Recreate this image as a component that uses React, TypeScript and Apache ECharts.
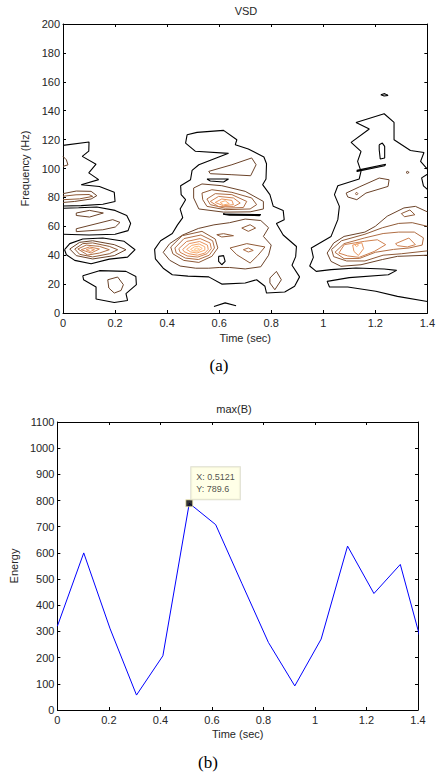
import React, { useEffect, useRef } from "react";
import * as echarts from "echarts";

type Pt = [number, number];

// ================= chart (a): VSD contour lines, points are [time (sec), frequency (Hz)] =================
const levelColors = ["#000000", "#6b4329", "#8f5a37", "#b06e44", "#cf8150", "#e8955e", "#f7a96c", "#ffbb7e", "#ffcb94"];

// left column (t ~ 0 - 0.28)
const leftA1: Pt[] = [[0, 116], [0.1, 118.3], [0.099, 112], [0.074, 108.4], [0.127, 103], [0.099, 97], [0.137, 92.3], [0.07, 88.8], [0.14, 87.5], [0.197, 83.5], [0.2, 77.2], [0.153, 75.3], [0.07, 74.3], [0, 74]];
const leftA2: Pt[] = [[0, 72.5], [0.06, 72.8], [0.13, 73.4], [0.2, 71], [0.245, 67.5], [0.26, 62], [0.25, 57], [0.2, 54.5], [0.1, 54], [0, 54.5]];
const leftEdge100: Pt[] = [[0, 108.4], [0.013, 106], [0.019, 102.5], [0, 101.5]];
const left80L2: Pt[] = [[0, 82.6], [0.051, 84.4], [0.108, 84.2], [0.13, 81.2], [0.108, 78.9], [0.045, 77.2], [0, 76.5]];
const left80L3: Pt[] = [[0, 80.8], [0.05, 81.8], [0.1, 82], [0.114, 80.7], [0.064, 79], [0, 78.4]];
const leftDiamond: Pt[] = [[0.051, 69.2], [0.102, 71], [0.155, 69.2], [0.102, 66.4], [0.051, 67.5]];
const left60: Pt[] = [[0.051, 58.3], [0.191, 64.6], [0.219, 62.7], [0.201, 59.5], [0.153, 57.6], [0.051, 56.3]];
const left45L1: Pt[] = [[0.006, 43.8], [0.026, 48], [0.076, 51.2], [0.153, 51.9], [0.235, 49.6], [0.277, 43.8], [0.248, 38.7], [0.178, 37.3], [0.108, 34.1], [0.045, 36.4], [0.013, 40.3]];
const left45L2: Pt[] = [[0.026, 44.3], [0.064, 48.9], [0.114, 50], [0.197, 47.3], [0.242, 43.8], [0.197, 39.7], [0.114, 37.4], [0.051, 39.7]];
const left45L3: Pt[] = [[0.045, 44.3], [0.076, 48], [0.114, 48.5], [0.178, 46.1], [0.21, 43.8], [0.178, 41], [0.114, 38.8], [0.064, 40.6]];
const left45L4: Pt[] = [[0.057, 44.3], [0.089, 47], [0.14, 46.1], [0.178, 43.8], [0.14, 41.5], [0.095, 40.1]];
const left45L5: Pt[] = [[0.07, 43.8], [0.102, 45.7], [0.14, 44.3], [0.108, 41.5]];
const left45L6: Pt[] = [[0.089, 43.8], [0.105, 44.7], [0.121, 43.8], [0.105, 42.6]];
const left20L1: Pt[] = [[0.076, 25.8], [0.14, 29.3], [0.242, 28.8], [0.28, 25.3], [0.282, 19.6], [0.242, 13.4], [0.248, 8.7], [0.197, 7.3], [0.127, 9.7], [0.127, 18], [0.079, 23]];
const left20L2: Pt[] = [[0.172, 23], [0.21, 24.9], [0.232, 19.6], [0.223, 15.6], [0.197, 13.8], [0.176, 17.3]];

// middle column (t ~ 0.35 - 0.91)
const midOuter: Pt[] = [[0.477, 123.4], [0.515, 125], [0.617, 126.4], [0.668, 119.9], [0.662, 116.5], [0.712, 113.5], [0.772, 108], [0.782, 103.3], [0.78, 92.7], [0.767, 88.8], [0.795, 81.9], [0.808, 73.8], [0.846, 71], [0.85, 64.6], [0.82, 62], [0.846, 54], [0.897, 46], [0.894, 39], [0.88, 33], [0.909, 25], [0.89, 18.5], [0.852, 14.5], [0.782, 13.8], [0.776, 18.5], [0.744, 23], [0.7, 20.8], [0.61, 20], [0.56, 25], [0.48, 25.5], [0.42, 26.5], [0.385, 31], [0.355, 37.5], [0.352, 44], [0.375, 50], [0.42, 55], [0.44, 61], [0.46, 66], [0.45, 72], [0.471, 78.4], [0.454, 81.9], [0.452, 88.1], [0.49, 92.2], [0.496, 98.7], [0.522, 102.6], [0.636, 110.5], [0.509, 111.9], [0.471, 117.6]];
const mid100L2: Pt[] = [[0.56, 98], [0.649, 102.6], [0.725, 107.3], [0.742, 102.6], [0.721, 95], [0.649, 95.7], [0.566, 96.4]];
const midSliver92: Pt[] = [[0.553, 92.7], [0.636, 92.7], [0.617, 90.7], [0.566, 91.3]];
const mid80L2: Pt[] = [[0.502, 86.5], [0.534, 89.3], [0.61, 88.1], [0.7, 84.2], [0.77, 77.2], [0.77, 72], [0.719, 70], [0.617, 69.8], [0.522, 72], [0.502, 79.6]];
const mid80L3: Pt[] = [[0.534, 83], [0.572, 85.3], [0.649, 83.5], [0.725, 79.6], [0.744, 75], [0.719, 72], [0.623, 71.5], [0.553, 73.8], [0.537, 78.4]];
const mid80L4: Pt[] = [[0.553, 78.9], [0.585, 82.6], [0.649, 81.9], [0.706, 77.2], [0.693, 73], [0.623, 72.5], [0.566, 75]];
const mid80L5: Pt[] = [[0.566, 77.2], [0.598, 80.7], [0.655, 79.6], [0.681, 76.1], [0.655, 73.6], [0.598, 73.6]];
const mid80L6: Pt[] = [[0.585, 76.5], [0.61, 78.9], [0.649, 77.9], [0.655, 75], [0.617, 74.2]];
const mid80L7: Pt[] = [[0.604, 76.5], [0.623, 77.7], [0.639, 75.6], [0.617, 74.8]];
const midSliver68: Pt[] = [[0.615, 68.4], [0.76, 68.1], [0.755, 67.4], [0.64, 67.6]];
const mid45L2: Pt[] = [[0.385, 42], [0.41, 48], [0.46, 54], [0.52, 58.5], [0.58, 61], [0.64, 62.5], [0.7, 65], [0.76, 64], [0.79, 59], [0.77, 53], [0.8, 47], [0.79, 40], [0.76, 32], [0.7, 30.5], [0.64, 31.5], [0.6, 31.5], [0.56, 31], [0.51, 31], [0.45, 32.5], [0.41, 36.5]];
const mid45L3: Pt[] = [[0.414, 45.7], [0.458, 53.5], [0.534, 56.5], [0.585, 51.2], [0.595, 45], [0.572, 39.2], [0.522, 35], [0.464, 36.4], [0.422, 41]];
const mid45L4: Pt[] = [[0.43, 45], [0.465, 51.5], [0.53, 54], [0.575, 50], [0.582, 45], [0.562, 40], [0.52, 37], [0.47, 38], [0.435, 41.5]];
const mid45L5: Pt[] = [[0.445, 44.5], [0.475, 49.5], [0.527, 51.5], [0.565, 48.5], [0.57, 44.5], [0.553, 41], [0.518, 38.7], [0.477, 39.5], [0.45, 42]];
const mid45L6: Pt[] = [[0.46, 44], [0.485, 48], [0.525, 49.5], [0.555, 47], [0.558, 44], [0.545, 41.5], [0.517, 40], [0.484, 41], [0.465, 42.5]];
const mid45L7: Pt[] = [[0.475, 44], [0.495, 46.8], [0.523, 47.8], [0.545, 45.8], [0.545, 43.5], [0.515, 41.5], [0.49, 42.3]];
const mid45L8: Pt[] = [[0.49, 44], [0.505, 45.8], [0.522, 46.2], [0.535, 44.7], [0.52, 42.8], [0.5, 43]];
const mid45L9: Pt[] = [[0.503, 44], [0.515, 45], [0.525, 44.2], [0.513, 43.3]];
const midDiamondL3: Pt[] = [[0.642, 45], [0.706, 48], [0.776, 45.7], [0.748, 39.7], [0.719, 34.6], [0.668, 40.3]];
const midDiamondL4: Pt[] = [[0.693, 43.8], [0.712, 45], [0.731, 43.3], [0.712, 42.2]];
const midTopRightL3: Pt[] = [[0.687, 58.8], [0.719, 61.1], [0.74, 58.8], [0.712, 56.5]];
const midSliver54: Pt[] = [[0.591, 54.2], [0.617, 54.9], [0.655, 53.5], [0.61, 52.6]];
const midHole: Pt[] = [[0.598, 39.2], [0.617, 39.7], [0.623, 35.7], [0.61, 33.4], [0.598, 35.7]];
const midLowDiamond: Pt[] = [[0.795, 24.2], [0.82, 28.8], [0.839, 23], [0.814, 16.1], [0.795, 20.8]];
const midBottomBump: Pt[] = [[0.58, 4.5], [0.623, 7], [0.665, 5]];

// right column (t ~ 0.95 - 1.4)
const rightOuter: Pt[] = [[1.4, 8], [1.285, 11.5], [1.202, 15], [1.094, 18], [1.024, 18], [1.015, 21.9], [1.1, 24.5], [1.25, 26.5], [1.282, 29.5], [1.234, 30.4], [1.126, 31.1], [1.03, 30], [0.973, 28.8], [0.948, 32.5], [0.962, 38.5], [0.954, 45], [1.03, 53], [1.056, 64.6], [1.062, 73.8], [1.043, 81.9], [1.056, 88.1], [1.138, 92.7], [1.145, 98], [1.132, 104.9], [1.145, 111.8], [1.107, 118.1], [1.177, 127.3], [1.126, 131.9], [1.234, 137.9], [1.272, 131.9], [1.272, 119.9], [1.335, 112.5], [1.387, 111.1], [1.374, 104.9], [1.4, 99.6]];
const rightEdge95: Pt[] = [[1.4, 96], [1.378, 93.5], [1.385, 88], [1.4, 85.5]];
const right152: Pt[] = [[1.221, 151.1], [1.236, 151.8], [1.249, 150.6], [1.234, 150.2]];
const rightOval: Pt[] = [[1.215, 116.5], [1.227, 117.6], [1.236, 115.3], [1.236, 107.3], [1.219, 106.6], [1.215, 113]];
const rightSliver100: Pt[] = [[1.129, 98.7], [1.24, 102.9], [1.236, 101.9], [1.13, 97.9]];
const rightDot97: Pt[] = [[1.318, 97.3], [1.323, 98], [1.33, 97.3], [1.323, 96.6]];
const right85L2: Pt[] = [[1.088, 83], [1.138, 87.2], [1.215, 93.4], [1.253, 92.2], [1.249, 87.6], [1.164, 83], [1.129, 78.4], [1.094, 80.3]];
const right85L3: Pt[] = [[1.124, 82.6], [1.128, 83.6], [1.133, 82.6], [1.128, 81.6]];
const right45L2: Pt[] = [[1.4, 40], [1.285, 39.2], [1.227, 37], [1.145, 33.4], [1.068, 32.3], [1.03, 35.7], [1.015, 41.5], [1.04, 48.4], [1.08, 53], [1.16, 56], [1.2, 60], [1.246, 67], [1.31, 72.7], [1.354, 73.8], [1.4, 70]];
const rightRhombus: Pt[] = [[1.3, 68.8], [1.333, 71.3], [1.352, 68], [1.312, 66.6]];
const right45L3: Pt[] = [[1.4, 43], [1.3, 41], [1.23, 40], [1.16, 36], [1.09, 36], [1.04, 39], [1.032, 44], [1.07, 50], [1.16, 54.5], [1.227, 59], [1.29, 62], [1.342, 62.5], [1.4, 60]];
const right45L4: Pt[] = [[1.045, 42], [1.08, 48], [1.16, 52], [1.23, 55], [1.29, 56], [1.35, 56], [1.385, 52], [1.38, 47], [1.33, 45], [1.27, 44], [1.2, 42], [1.14, 37.8], [1.08, 37.6]];
const right45L5: Pt[] = [[1.06, 41.5], [1.081, 47.3], [1.158, 49.6], [1.208, 50.7], [1.24, 47.3], [1.196, 42.6], [1.138, 38.5], [1.094, 39.5]];
const right45L6: Pt[] = [[1.113, 47], [1.148, 48.6], [1.155, 44.5], [1.135, 39.8], [1.118, 42.6]];
const right45L7: Pt[] = [[1.122, 47], [1.13, 48], [1.135, 46.8], [1.128, 46]];
const right45R5: Pt[] = [[1.278, 48], [1.329, 51.9], [1.354, 47.3], [1.323, 45.7], [1.285, 46.6]];

const contourList: { pts: Pt[]; level: number; closed: boolean }[] = [
  { pts: leftA1, level: 1, closed: false },
  { pts: leftA2, level: 1, closed: false },
  { pts: leftEdge100, level: 2, closed: false },
  { pts: left80L2, level: 2, closed: false },
  { pts: left80L3, level: 3, closed: false },
  { pts: leftDiamond, level: 2, closed: true },
  { pts: left60, level: 2, closed: true },
  { pts: left45L1, level: 1, closed: true },
  { pts: left45L2, level: 2, closed: true },
  { pts: left45L3, level: 3, closed: true },
  { pts: left45L4, level: 4, closed: true },
  { pts: left45L5, level: 5, closed: true },
  { pts: left45L6, level: 6, closed: true },
  { pts: left20L1, level: 1, closed: true },
  { pts: left20L2, level: 2, closed: true },
  { pts: midOuter, level: 1, closed: true },
  { pts: mid100L2, level: 2, closed: true },
  { pts: midSliver92, level: 1, closed: true },
  { pts: mid80L2, level: 2, closed: true },
  { pts: mid80L3, level: 3, closed: true },
  { pts: mid80L4, level: 4, closed: true },
  { pts: mid80L5, level: 5, closed: true },
  { pts: mid80L6, level: 6, closed: true },
  { pts: mid80L7, level: 7, closed: true },
  { pts: midSliver68, level: 1, closed: true },
  { pts: mid45L2, level: 2, closed: true },
  { pts: mid45L3, level: 3, closed: true },
  { pts: mid45L4, level: 4, closed: true },
  { pts: mid45L5, level: 5, closed: true },
  { pts: mid45L6, level: 6, closed: true },
  { pts: mid45L7, level: 7, closed: true },
  { pts: mid45L8, level: 8, closed: true },
  { pts: mid45L9, level: 9, closed: true },
  { pts: midDiamondL3, level: 3, closed: true },
  { pts: midDiamondL4, level: 4, closed: true },
  { pts: midTopRightL3, level: 3, closed: true },
  { pts: midSliver54, level: 3, closed: true },
  { pts: midHole, level: 1, closed: true },
  { pts: midLowDiamond, level: 2, closed: true },
  { pts: midBottomBump, level: 1, closed: false },
  { pts: rightOuter, level: 1, closed: false },
  { pts: rightEdge95, level: 1, closed: false },
  { pts: right152, level: 1, closed: true },
  { pts: rightOval, level: 1, closed: true },
  { pts: rightSliver100, level: 1, closed: true },
  { pts: rightDot97, level: 2, closed: true },
  { pts: right85L2, level: 2, closed: true },
  { pts: right85L3, level: 3, closed: true },
  { pts: right45L2, level: 2, closed: false },
  { pts: rightRhombus, level: 3, closed: true },
  { pts: right45L3, level: 3, closed: false },
  { pts: right45L4, level: 4, closed: true },
  { pts: right45L5, level: 5, closed: true },
  { pts: right45L6, level: 6, closed: true },
  { pts: right45L7, level: 7, closed: true },
  { pts: right45R5, level: 5, closed: true },
];

// ================= chart (b): max(B) =================
const bTime = [0, 0.1024, 0.2048, 0.3072, 0.4096, 0.5121, 0.6145, 0.7169, 0.8193, 0.9217, 1.0241, 1.1265, 1.2289, 1.3313, 1.4337];
const bEnergy = [320, 600, 310, 57, 207, 789.6, 708, 482, 258, 92, 271, 626, 445, 556, 183];
const tipPoint: Pt = [0.5121, 789.6];

// axes ranges
const timeMax = 1.4;
const timeStep = 0.2;
const freqMax = 200;
const freqStep = 20;
const energyMax = 1100;
const energyStep = 100;

const FONT = "'Liberation Sans', Arial, Helvetica, sans-serif";
const TXT = "#262626";

function xAx(gridIndex: number, position: string, labels: boolean, nameGap: number) {
  return {
    type: "value",
    gridIndex,
    position,
    min: 0,
    max: timeMax,
    interval: timeStep,
    axisLine: { show: true, onZero: false, lineStyle: { color: "#000", width: 1 } },
    axisTick: { show: true, inside: true, length: 3, lineStyle: { color: "#000" } },
    axisLabel: { show: labels, margin: 4, fontSize: 11, color: TXT, fontFamily: FONT, formatter: (v: number) => String(v) },
    splitLine: { show: false },
    name: labels ? "Time (sec)" : "",
    nameLocation: "middle",
    nameGap,
    nameTextStyle: { fontSize: 11, color: TXT, fontFamily: FONT },
  };
}

function yAx(gridIndex: number, position: string, labels: boolean, max: number, step: number, name: string, nameGap: number) {
  return {
    type: "value",
    gridIndex,
    position,
    min: 0,
    max,
    interval: step,
    axisLine: { show: true, onZero: false, lineStyle: { color: "#000", width: 1 } },
    axisTick: { show: true, inside: true, length: 3, lineStyle: { color: "#000" } },
    axisLabel: { show: labels, margin: 3, fontSize: 11, color: TXT, fontFamily: FONT, formatter: (v: number) => String(v) },
    splitLine: { show: false },
    name: labels ? name : "",
    nameLocation: "middle",
    nameGap,
    nameTextStyle: { fontSize: 11, color: TXT, fontFamily: FONT },
  };
}

export default function App() {
  const ref = useRef<HTMLDivElement | null>(null);

  useEffect(() => {
    if (!ref.current) return;
    const chart = echarts.init(ref.current, null, { renderer: "svg" });

    const contourSeries = contourList.map((c) => ({
      type: "line",
      xAxisIndex: 0,
      yAxisIndex: 0,
      data: c.closed ? [...c.pts, c.pts[0]] : c.pts,
      symbol: "none",
      showSymbol: false,
      silent: true,
      z: 2 + c.level,
      lineStyle: { color: levelColors[c.level - 1], width: c.level === 1 ? 1.1 : 1 },
    }));

    chart.setOption({
      animation: false,
      backgroundColor: "#ffffff",
      grid: [
        { left: 63, top: 24, width: 367, height: 289, containLabel: false },
        { left: 51, top: 422, width: 367, height: 288, containLabel: false },
      ],
      xAxis: [
        xAx(0, "bottom", true, 19),
        xAx(0, "top", false, 0),
        xAx(1, "bottom", true, 18),
        xAx(1, "top", false, 0),
      ],
      yAxis: [
        yAx(0, "left", true, freqMax, freqStep, "Frequency (Hz)", 28),
        yAx(0, "right", false, freqMax, freqStep, "", 0),
        yAx(1, "left", true, energyMax, energyStep, "Energy", 34),
        yAx(1, "right", false, energyMax, energyStep, "", 0),
      ],
      graphic: [
        { type: "text", x: 246, y: 11, style: { text: "VSD", fontSize: 11, fontFamily: FONT, fill: TXT, align: "center", verticalAlign: "middle" } },
        { type: "text", x: 234, y: 409, style: { text: "max(B)", fontSize: 11, fontFamily: FONT, fill: TXT, align: "center", verticalAlign: "middle" } },
        { type: "text", x: 219, y: 365, style: { text: "(a)", fontSize: 17, fontFamily: "'Liberation Serif', 'DejaVu Serif', serif", fill: "#000", align: "center", verticalAlign: "middle" } },
        { type: "text", x: 208, y: 762, style: { text: "(b)", fontSize: 17, fontFamily: "'Liberation Serif', 'DejaVu Serif', serif", fill: "#000", align: "center", verticalAlign: "middle" } },
      ],
      series: [
        ...contourSeries,
        {
          type: "line",
          xAxisIndex: 2,
          yAxisIndex: 2,
          data: bTime.map((t, i) => [t, bEnergy[i]]),
          symbol: "none",
          showSymbol: false,
          clip: true,
          lineStyle: { color: "#0000ff", width: 1 },
          z: 3,
        },
        {
          type: "scatter",
          xAxisIndex: 2,
          yAxisIndex: 2,
          data: [tipPoint],
          symbol: "rect",
          symbolSize: 7,
          z: 10,
          itemStyle: { color: "#000000", borderColor: "#f4eeb0", borderWidth: 1 },
          label: {
            show: true,
            position: [6, -32],
            formatter: (p: any) => `X: ${p.value[0]}\nY: ${p.value[1]}`,
            fontSize: 9,
            lineHeight: 12,
            fontFamily: FONT,
            color: "#222",
            backgroundColor: "#ffffe1",
            borderColor: "#d6d6c2",
            borderWidth: 1,
            padding: [4, 5],
            align: "left",
            verticalAlign: "top",
          },
        },
      ],
    });

    return () => {
      chart.dispose();
    };
  }, []);

  return <div ref={ref} style={{ position: "absolute", left: 0, top: 0, width: 438, height: 775, background: "#fff" }} />;
}
